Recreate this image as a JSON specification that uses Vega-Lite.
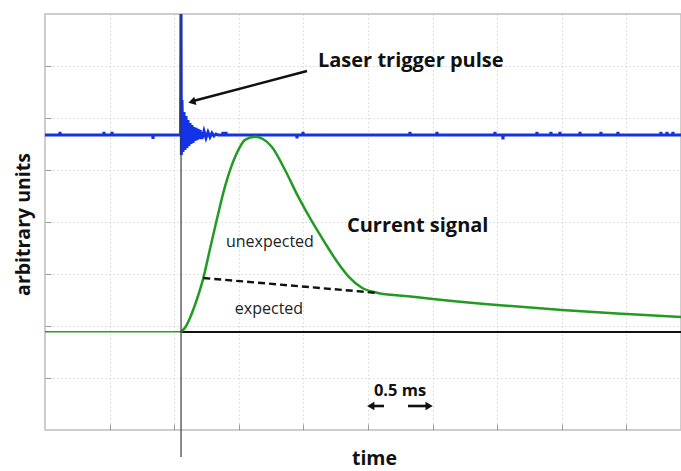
{
  "$schema": "https://vega.github.io/schema/vega-lite/v6.json",
  "width": 636,
  "height": 416,
  "autosize": {"type": "none"},
  "padding": {"left": 45, "top": 14, "right": 0, "bottom": 41},
  "background": "white",
  "config": {
    "view": {"stroke": "#bdbdbd", "strokeWidth": 1.5},
    "font": "Open Sans",
    "axis": {
      "labels": false,
      "domain": false,
      "tickSize": -6,
      "tickColor": "#9a9a9a",
      "grid": true,
      "gridColor": "#c4c4c4",
      "gridDash": [1, 3],
      "gridWidth": 1,
      "titleFont": "Open Sans",
      "titleFontSize": 19.5,
      "titleFontWeight": "bold",
      "titleColor": "#111111"
    }
  },
  "datasets": {
    "trigger": [
      {"t": 0.0, "v": 5.673},
      {"t": 0.1135, "v": 5.673}, {"t": 0.1161, "v": 5.73}, {"t": 0.1187, "v": 5.673},
      {"t": 0.4541, "v": 5.673}, {"t": 0.4567, "v": 5.73}, {"t": 0.4593, "v": 5.673},
      {"t": 0.516, "v": 5.673}, {"t": 0.5186, "v": 5.73}, {"t": 0.5212, "v": 5.673},
      {"t": 0.8333, "v": 5.673}, {"t": 0.8359, "v": 5.6}, {"t": 0.8385, "v": 5.673},
      {"t": 1.0495, "v": 5.673},
      {"t": 1.0526, "v": 8.4},
      {"t": 1.0557, "v": 5.288},
      {"t": 1.0604, "v": 6.346},
      {"t": 1.0681, "v": 5.346},
      {"t": 1.0759, "v": 6.115},
      {"t": 1.0836, "v": 5.385},
      {"t": 1.0913, "v": 6.038},
      {"t": 1.0991, "v": 5.423},
      {"t": 1.1068, "v": 5.962},
      {"t": 1.1146, "v": 5.462},
      {"t": 1.1223, "v": 5.904},
      {"t": 1.13, "v": 5.5},
      {"t": 1.1378, "v": 5.865},
      {"t": 1.1455, "v": 5.519},
      {"t": 1.1533, "v": 5.827},
      {"t": 1.161, "v": 5.558},
      {"t": 1.1687, "v": 5.808},
      {"t": 1.1765, "v": 5.577},
      {"t": 1.1842, "v": 5.788},
      {"t": 1.192, "v": 5.596},
      {"t": 1.1997, "v": 5.769},
      {"t": 1.2152, "v": 5.596},
      {"t": 1.2307, "v": 5.75},
      {"t": 1.2461, "v": 5.615},
      {"t": 1.2616, "v": 5.731},
      {"t": 1.2771, "v": 5.635},
      {"t": 1.2926, "v": 5.712},
      {"t": 1.308, "v": 5.654},
      {"t": 1.3235, "v": 5.692},
      {"t": 1.339, "v": 5.673},
      {"t": 1.3751, "v": 5.673}, {"t": 1.3777, "v": 5.73}, {"t": 1.3803, "v": 5.673},
      {"t": 1.3983, "v": 5.673}, {"t": 1.4009, "v": 5.73}, {"t": 1.4035, "v": 5.673},
      {"t": 1.9479, "v": 5.673}, {"t": 1.9505, "v": 5.61}, {"t": 1.9531, "v": 5.673},
      {"t": 1.9943, "v": 5.673}, {"t": 1.9969, "v": 5.73}, {"t": 1.9995, "v": 5.673},
      {"t": 2.8225, "v": 5.673}, {"t": 2.8251, "v": 5.73}, {"t": 2.8277, "v": 5.673},
      {"t": 3.0315, "v": 5.673}, {"t": 3.0341, "v": 5.73}, {"t": 3.0367, "v": 5.673},
      {"t": 3.4804, "v": 5.673}, {"t": 3.483, "v": 5.73}, {"t": 3.4856, "v": 5.673},
      {"t": 3.5423, "v": 5.673}, {"t": 3.5449, "v": 5.59}, {"t": 3.5475, "v": 5.673},
      {"t": 3.8054, "v": 5.673}, {"t": 3.808, "v": 5.73}, {"t": 3.8106, "v": 5.673},
      {"t": 3.9138, "v": 5.673}, {"t": 3.9164, "v": 5.73}, {"t": 3.919, "v": 5.673},
      {"t": 3.9835, "v": 5.673}, {"t": 3.9861, "v": 5.73}, {"t": 3.9887, "v": 5.673},
      {"t": 4.1383, "v": 5.673}, {"t": 4.1409, "v": 5.73}, {"t": 4.1435, "v": 5.673},
      {"t": 4.3008, "v": 5.673}, {"t": 4.3034, "v": 5.73}, {"t": 4.306, "v": 5.673},
      {"t": 4.4324, "v": 5.673}, {"t": 4.435, "v": 5.73}, {"t": 4.4376, "v": 5.673},
      {"t": 4.7652, "v": 5.673}, {"t": 4.7678, "v": 5.73}, {"t": 4.7704, "v": 5.673},
      {"t": 4.8116, "v": 5.673}, {"t": 4.8142, "v": 5.73}, {"t": 4.8168, "v": 5.673},
      {"t": 4.8581, "v": 5.673}, {"t": 4.8607, "v": 5.73}, {"t": 4.8633, "v": 5.673},
      {"t": 4.923, "v": 5.673}
    ],
    "current": [
      {"t": 1.053, "v": 1.885},
      {"t": 1.09, "v": 1.99},
      {"t": 1.122, "v": 2.154},
      {"t": 1.174, "v": 2.5},
      {"t": 1.225, "v": 2.917},
      {"t": 1.277, "v": 3.48},
      {"t": 1.329, "v": 4.038},
      {"t": 1.393, "v": 4.679},
      {"t": 1.484, "v": 5.321},
      {"t": 1.548, "v": 5.58},
      {"t": 1.625, "v": 5.64},
      {"t": 1.687, "v": 5.596},
      {"t": 1.755, "v": 5.448},
      {"t": 1.858, "v": 5.0},
      {"t": 1.96, "v": 4.487},
      {"t": 2.064, "v": 4.02},
      {"t": 2.167, "v": 3.6},
      {"t": 2.26, "v": 3.24},
      {"t": 2.35, "v": 2.95},
      {"t": 2.45, "v": 2.74},
      {"t": 2.577, "v": 2.635},
      {"t": 2.79, "v": 2.577},
      {"t": 3.003, "v": 2.519},
      {"t": 3.498, "v": 2.404},
      {"t": 4.002, "v": 2.308},
      {"t": 4.505, "v": 2.231},
      {"t": 4.923, "v": 2.173}
    ],
    "pretrigger": [
      {"t": 0.0, "v": 1.89},
      {"t": 1.053, "v": 1.89}
    ],
    "zero": [
      {"t": 1.053, "v": 1.885, "t2": 4.923}
    ],
    "marker": [
      {"t": 1.053, "v": 8.0, "v2": -0.52}
    ],
    "expected": [
      {"t": 1.225, "v": 2.923},
      {"t": 2.577, "v": 2.635}
    ],
    "arrows": [
      {"t": 2.028, "v": 6.904, "t2": 1.14, "v2": 6.32},
      {"t": 2.624, "v": 0.4615, "t2": 2.54, "v2": 0.4615},
      {"t": 2.81, "v": 0.4615, "t2": 2.955, "v2": 0.4615}
    ],
    "heads": [
      {"t": 1.146, "v": 6.318, "angle": 255},
      {"t": 2.531, "v": 0.4615, "angle": 270},
      {"t": 2.964, "v": 0.4615, "angle": 90}
    ],
    "titles": [
      {"t": 2.113, "v": 6.98, "text": "Laser trigger pulse"},
      {"t": 2.337, "v": 3.808, "text": "Current signal"}
    ],
    "notes": [
      {"t": 1.741, "v": 3.52, "text": "unexpected"},
      {"t": 1.734, "v": 2.23, "text": "expected"}
    ],
    "scale": [
      {"t": 2.748, "v": 0.66, "text": "0.5 ms"}
    ]
  },
  "layer": [
    {
      "data": {"name": "trigger"},
      "mark": {"type": "line", "color": "#1433e6", "strokeWidth": 3, "clip": true},
      "encoding": {
        "x": {
          "field": "t", "type": "quantitative",
          "scale": {"domain": [0, 4.923], "nice": false, "zero": false},
          "axis": {
            "values": [0.5, 1, 1.5, 2, 2.5, 3, 3.5, 4, 4.5],
            "title": "time",
            "titleX": 329,
            "titleY": 28,
            "titleAnchor": null,
            "titleAlign": "center",
            "titleBaseline": "middle"
          }
        },
        "y": {
          "field": "v", "type": "quantitative",
          "scale": {"domain": [0, 8], "nice": false, "zero": false},
          "axis": {
            "values": [1, 2, 3, 4, 5, 6, 7],
            "title": "arbitrary units",
            "titleX": -22,
            "titleY": 210,
            "titleAngle": 270,
            "titleAlign": "center",
            "titleBaseline": "middle"
          }
        }
      }
    },
    {
      "data": {"name": "pretrigger"},
      "mark": {"type": "line", "color": "#2b9a2b", "strokeWidth": 1.6, "clip": true},
      "encoding": {
        "x": {"field": "t", "type": "quantitative"},
        "y": {"field": "v", "type": "quantitative"}
      }
    },
    {
      "data": {"name": "zero"},
      "mark": {"type": "rule", "color": "#111111", "strokeWidth": 2},
      "encoding": {
        "x": {"field": "t", "type": "quantitative"},
        "x2": {"field": "t2"},
        "y": {"field": "v", "type": "quantitative"}
      }
    },
    {
      "data": {"name": "current"},
      "mark": {"type": "line", "color": "#239a23", "strokeWidth": 2.5, "interpolate": "monotone", "clip": true},
      "encoding": {
        "x": {"field": "t", "type": "quantitative"},
        "y": {"field": "v", "type": "quantitative"}
      }
    },
    {
      "data": {"name": "marker"},
      "mark": {"type": "rule", "color": "#3a3a3a", "strokeWidth": 1.2},
      "encoding": {
        "x": {"field": "t", "type": "quantitative"},
        "y": {"field": "v", "type": "quantitative"},
        "y2": {"field": "v2"}
      }
    },
    {
      "data": {"name": "expected"},
      "mark": {"type": "line", "color": "#111111", "strokeWidth": 2.4, "strokeDash": [7, 4]},
      "encoding": {
        "x": {"field": "t", "type": "quantitative"},
        "y": {"field": "v", "type": "quantitative"}
      }
    },
    {
      "data": {"name": "arrows"},
      "mark": {"type": "rule", "color": "#111111", "strokeWidth": 2.6},
      "encoding": {
        "x": {"field": "t", "type": "quantitative"},
        "y": {"field": "v", "type": "quantitative"},
        "x2": {"field": "t2"},
        "y2": {"field": "v2"}
      }
    },
    {
      "data": {"name": "heads"},
      "mark": {"type": "point", "shape": "triangle", "filled": true, "color": "#111111", "size": 70, "opacity": 1},
      "encoding": {
        "x": {"field": "t", "type": "quantitative"},
        "y": {"field": "v", "type": "quantitative"},
        "angle": {"field": "angle", "type": "quantitative", "scale": null}
      }
    },
    {
      "data": {"name": "titles"},
      "mark": {"type": "text", "font": "Open Sans", "fontSize": 20, "fontWeight": "bold", "align": "left", "baseline": "alphabetic", "color": "#111111"},
      "encoding": {
        "x": {"field": "t", "type": "quantitative"},
        "y": {"field": "v", "type": "quantitative"},
        "text": {"field": "text"}
      }
    },
    {
      "data": {"name": "notes"},
      "mark": {"type": "text", "font": "Open Sans", "fontSize": 16, "align": "center", "baseline": "alphabetic", "color": "#222222"},
      "encoding": {
        "x": {"field": "t", "type": "quantitative"},
        "y": {"field": "v", "type": "quantitative"},
        "text": {"field": "text"}
      }
    },
    {
      "data": {"name": "scale"},
      "mark": {"type": "text", "font": "Open Sans", "fontSize": 16.5, "fontWeight": "bold", "align": "center", "baseline": "alphabetic", "color": "#111111"},
      "encoding": {
        "x": {"field": "t", "type": "quantitative"},
        "y": {"field": "v", "type": "quantitative"},
        "text": {"field": "text"}
      }
    }
  ]
}
